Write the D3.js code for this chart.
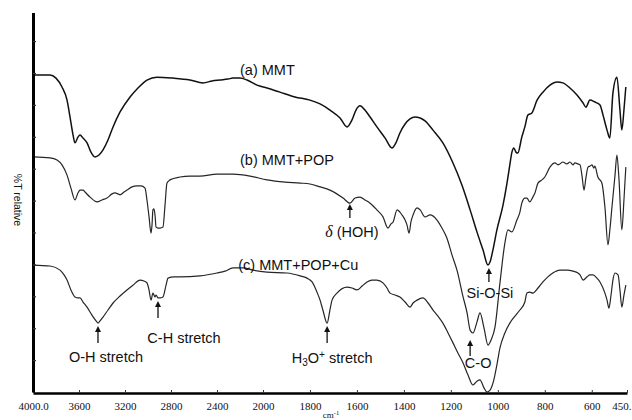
<!DOCTYPE html>
<html>
<head>
<meta charset="utf-8">
<script src="https://cdn.jsdelivr.net/npm/d3@7"></script>
<style>
  html, body { margin: 0; padding: 0; background: #fff; }
  svg { display: block; }
</style>
</head>
<body>
<svg id="chart" width="632" height="420"></svg>
<script>
// FTIR spectra: [wavenumber (cm-1), %T relative]
const mmt = [
  [4000,99.4],[3852,99.4],[3800,98.4],[3748,95.6],[3704,91.5],[3678,86.2],[3652,80.6],[3635,78.1],
  [3609,79.9],[3591,80.6],[3565,79.6],[3530,78.1],[3496,75.2],[3461,73.7],[3426,74.3],[3391,75.9],
  [3348,79.0],[3304,83.1],[3243,87.8],[3156,92.5],[3087,95.3],[3009,97.8],[2922,98.7],[2783,98.4],
  [2635,97.8],[2522,96.9],[2443,97.5],[2374,97.8],[2304,98.1],[2261,98.4],[2200,98.4],[2139,97.8],
  [2052,96.2],[1983,95.3],[1928,94.0],[1864,92.5],[1800,91.5],[1757,90.3],[1715,88.4],[1672,85.9],
  [1642,83.1],[1621,85.3],[1604,88.4],[1587,89.7],[1566,88.4],[1544,86.2],[1515,83.1],[1480,79.6],
  [1451,76.5],[1434,78.1],[1417,81.2],[1395,84.0],[1374,85.6],[1353,86.2],[1331,85.9],[1310,85.0],
  [1276,82.1],[1234,78.1],[1191,71.8],[1153,64.9],[1118,57.1],[1089,50.2],[1063,44.5],[1042,39.8],
  [1033,40.8],[1021,44.5],[1004,50.8],[978,58.6],[961,65.5],[949,71.2],[940,75.2],[932,76.5],
  [923,75.2],[915,74.9],[898,79.9],[885,83.1],[872,86.8],[855,87.5],[833,91.5],[808,94.0],
  [778,96.2],[748,97.2],[723,96.9],[693,95.3],[663,93.1],[637,90.6],[625,89.3],[608,91.5],
  [587,90.9],[565,90.0],[552,86.8],[535,82.1],[523,79.6],[510,93.7],[493,98.7],[480,88.4],
  [472,82.1],[463,88.4],[455,95.6]
];

const mmtPop = [
  [4000,73.7],[3852,73.4],[3791,72.7],[3748,71.2],[3704,68.0],[3670,63.9],[3635,60.2],[3609,62.4],
  [3591,63.3],[3565,63.3],[3548,62.7],[3504,61.1],[3443,59.6],[3400,60.2],[3357,60.8],[3313,62.1],
  [3287,62.4],[3261,62.1],[3243,61.8],[3209,62.7],[3183,63.3],[3139,64.3],[3096,64.6],[3061,64.6],
  [3026,63.9],[3009,60.2],[2991,54.9],[2974,49.8],[2965,52.4],[2957,57.1],[2948,57.4],[2939,55.5],
  [2930,51.7],[2913,51.4],[2896,51.4],[2870,51.7],[2852,58.6],[2835,65.5],[2809,66.5],[2722,67.4],
  [2635,67.7],[2548,67.7],[2400,68.3],[2261,68.3],[2113,67.7],[1983,66.5],[1906,65.8],[1842,65.5],
  [1800,65.2],[1757,64.3],[1715,63.3],[1659,60.8],[1630,59.2],[1608,60.8],[1587,61.1],[1566,60.2],
  [1544,59.2],[1515,57.1],[1489,54.9],[1468,51.4],[1455,52.7],[1446,53.3],[1429,57.1],[1417,56.4],
  [1408,55.5],[1395,53.9],[1387,52.4],[1378,49.8],[1370,53.3],[1361,55.5],[1344,57.7],[1331,57.1],
  [1310,54.9],[1289,55.5],[1259,53.9],[1238,51.4],[1217,48.3],[1195,42.9],[1174,38.2],[1148,29.8],
  [1131,24.8],[1118,19.4],[1106,18.5],[1089,21.9],[1076,24.8],[1059,20.1],[1042,14.7],[1029,16.3],
  [1012,20.4],[991,34.2],[970,46.7],[957,50.8],[940,50.2],[919,53.9],[906,56.4],[898,59.2],
  [885,60.8],[876,60.8],[864,59.6],[851,61.1],[842,62.4],[829,65.5],[812,66.5],[800,67.4],
  [778,70.5],[757,71.8],[744,71.2],[736,71.5],[723,72.1],[706,71.5],[693,72.1],[680,71.2],
  [672,71.8],[659,71.5],[650,71.2],[642,68.0],[633,63.3],[625,67.1],[616,70.5],[608,70.8],
  [599,71.2],[591,70.2],[587,70.8],[574,67.4],[557,65.5],[544,58.0],[531,46.1],[523,50.8],
  [514,58.0],[501,68.0],[493,74.3],[484,66.5],[472,50.8],[463,60.2],[455,70.5]
];

const mmtPopCu = [
  [4000,39.8],[3852,39.5],[3765,38.2],[3730,36.7],[3704,35.1],[3670,32.0],[3635,29.8],[3609,29.5],
  [3591,29.5],[3565,28.2],[3530,26.6],[3487,24.1],[3443,21.9],[3435,21.6],[3417,22.3],[3391,23.5],
  [3348,25.7],[3304,27.9],[3243,30.1],[3183,32.0],[3130,33.5],[3070,35.1],[3035,34.8],[3009,34.2],
  [2991,32.0],[2974,28.8],[2957,31.0],[2939,29.8],[2930,30.4],[2913,29.5],[2896,29.5],[2870,29.8],
  [2843,33.5],[2826,35.7],[2774,36.1],[2722,36.1],[2548,36.4],[2400,37.3],[2330,37.9],[2261,38.9],
  [2174,38.9],[2087,38.2],[1983,37.6],[1898,37.3],[1842,36.4],[1813,35.7],[1791,34.5],[1770,31.3],
  [1757,28.8],[1745,25.7],[1727,21.6],[1715,25.7],[1706,28.8],[1685,31.0],[1642,32.9],[1621,32.6],
  [1600,32.0],[1578,33.2],[1557,34.5],[1536,35.1],[1515,35.1],[1489,34.2],[1472,32.6],[1459,31.0],
  [1438,30.4],[1417,29.8],[1395,28.2],[1374,26.6],[1361,27.9],[1344,28.8],[1319,29.5],[1297,27.9],
  [1276,25.7],[1255,23.8],[1234,21.6],[1212,18.5],[1191,15.4],[1170,12.2],[1148,9.1],[1127,5.3],
  [1106,2.2],[1089,3.4],[1076,3.8],[1059,1.3],[1046,0.0],[1033,0.6],[1017,3.8],[1004,8.5],
  [991,13.8],[970,18.5],[949,21.6],[927,23.8],[906,25.7],[885,28.2],[876,31.0],[864,31.3],
  [851,31.0],[829,32.6],[808,34.5],[787,36.1],[766,37.3],[736,38.2],[706,38.2],[680,37.9],
  [659,37.3],[650,36.7],[637,35.1],[620,36.1],[608,36.7],[595,36.7],[578,35.7],[565,34.5],
  [544,31.0],[535,28.8],[527,26.3],[518,30.4],[510,35.1],[501,37.3],[488,36.7],[480,32.0],
  [472,26.6],[463,30.4],[455,33.5]
];

const seriesNames = ["(a) MMT", "(b) MMT+POP", "(c) MMT+POP+Cu"];

const tickWavenumbers = [4000, 3600, 3200, 2800, 2400, 2000, 1800, 1600, 1400, 1200, 1000, 800, 600, 450];
const tickLabels = ["4000.0", "3600", "3200", "2800", "2400", "2000", "1800", "1600", "1400", "1200", "1000", "800", "600", "450."];
const yTickValues = [10, 20, 30, 40, 50, 60, 70, 80, 90, 100, 110];

// Assigned bands: name, wavenumber and the %T at the arrow tip
const bandNames = ["O-H stretch", "C-H stretch", "H3O+ stretch", "δ (HOH)", "Si-O-Si", "C-O"];
const bandWavenumbers = [3435, 2913, 1727, 1630, 1038, 1118];
const bandTips = [20.7, 28.5, 20.7, 58.9, 38.9, 16.3];

// ---- drawing ----
const W = 632, H = 420;
const svg = d3.select("#chart");
svg.append("rect").attr("width", W).attr("height", H).attr("fill", "#fff");

// Wavenumber axis with a scale change at 2000 cm-1
const x = d3.scaleLinear().domain([4000, 2000, 450]).range([33, 263, 627]);
const y = d3.scaleLinear().domain([0, 119]).range([392, 12.4]);

const sans = "'Liberation Sans', Arial, Helvetica, sans-serif";
const serif = "'Liberation Serif', 'Times New Roman', Times, serif";

const line = d3.line()
  .x(d => x(d[0]))
  .y(d => y(d[1]))
  .curve(d3.curveMonotoneX);

const spectra = [mmt, mmtPop, mmtPopCu];
const strokeWidths = [1.5, 1.2, 1.2];
svg.append("g").selectAll("path")
  .data(spectra)
  .join("path")
  .attr("d", line)
  .attr("fill", "none")
  .attr("stroke", (d, i) => i === 0 ? "#111" : "#262626")
  .attr("stroke-width", (d, i) => strokeWidths[i])
  .attr("stroke-linejoin", "round");

// axes
const xAxis = d3.axisBottom(x)
  .tickValues(tickWavenumbers)
  .tickFormat((d, i) => tickLabels[i])
  .tickSizeInner(-3)
  .tickSizeOuter(0)
  .tickPadding(9);

const gx = svg.append("g").attr("transform", "translate(0,393)").call(xAxis);
gx.select(".domain").attr("stroke", "#000").attr("stroke-width", 2.6);
gx.selectAll(".tick line").attr("stroke", "#333").attr("stroke-width", 1);
gx.selectAll(".tick text")
  .attr("font-family", serif)
  .attr("font-size", 11)
  .attr("fill", "#111");
// keep the last label inside the frame
gx.selectAll(".tick text").filter((d, i) => i === tickWavenumbers.length - 1)
  .attr("text-anchor", "end")
  .attr("dx", 631 - x(450));

const yAxis = d3.axisLeft(y)
  .tickValues(yTickValues)
  .tickSizeInner(-3)
  .tickSizeOuter(0)
  .tickFormat("");

const gy = svg.append("g").attr("transform", "translate(33,0)").call(yAxis);
gy.select(".domain").attr("stroke", "#000").attr("stroke-width", 3);
gy.selectAll(".tick line").attr("stroke", "#333").attr("stroke-width", 1.2);

// axis titles
const unit = svg.append("text")
  .attr("x", 331).attr("y", 418)
  .attr("text-anchor", "middle")
  .attr("font-family", serif)
  .attr("font-size", 9)
  .attr("fill", "#111");
unit.append("tspan").text("cm");
unit.append("tspan").attr("dy", -3.5).attr("font-size", 6.5).text("-1");

svg.append("text")
  .attr("transform", "translate(14,200) rotate(90)")
  .attr("text-anchor", "middle")
  .attr("font-family", sans)
  .attr("font-size", 10.5)
  .attr("fill", "#111")
  .text("%T relative");

// series names
const nameAnchors = [[2200, 99.4], [2200, 71.2], [2215, 38.2]];
svg.append("g").selectAll("text")
  .data(seriesNames)
  .join("text")
  .attr("x", (d, i) => x(nameAnchors[i][0]))
  .attr("y", (d, i) => y(nameAnchors[i][1]))
  .attr("font-family", sans)
  .attr("font-size", 14.5)
  .attr("fill", "#111")
  .text(d => d);

// band arrows and labels: text offset (dx, dy below tip) and arrow length
const bandLayout = [
  { dx: 8,  dy: 36, len: 17 },
  { dx: 26, dy: 42, len: 17 },
  { dx: 5,  dy: 37, len: 17 },
  { dx: 2,  dy: 33, len: 14 },
  { dx: 1,  dy: 30, len: 14 },
  { dx: 8,  dy: 28, len: 16 }
];

const bands = svg.append("g");
bandNames.forEach((name, i) => {
  const bx = x(bandWavenumbers[i]);
  const tip = y(bandTips[i]);
  const L = bandLayout[i];
  bands.append("line")
    .attr("x1", bx).attr("x2", bx)
    .attr("y1", tip + 4).attr("y2", tip + L.len)
    .attr("stroke", "#111").attr("stroke-width", 1.3);
  bands.append("path")
    .attr("d", `M${bx},${tip} L${bx - 3},${tip + 6} L${bx + 3},${tip + 6} Z`)
    .attr("fill", "#111");

  const t = bands.append("text")
    .attr("x", bx + L.dx)
    .attr("y", tip + L.dy)
    .attr("text-anchor", "middle")
    .attr("font-family", sans)
    .attr("font-size", 14.5)
    .attr("fill", "#111");

  if (name.startsWith("H3O+")) {
    t.append("tspan").text("H");
    t.append("tspan").attr("dy", 3).attr("font-size", 10).text("3");
    t.append("tspan").attr("dy", -3).text("O");
    t.append("tspan").attr("dy", -5).attr("font-size", 10).text("+");
    t.append("tspan").attr("dy", 5).text(name.slice(4));
  } else if (name.startsWith("δ")) {
    t.append("tspan").attr("font-style", "italic").attr("font-family", serif).attr("font-size", 16).text("δ");
    t.append("tspan").text(name.slice(1));
  } else {
    t.text(name);
  }
});
</script>
</body>
</html>
